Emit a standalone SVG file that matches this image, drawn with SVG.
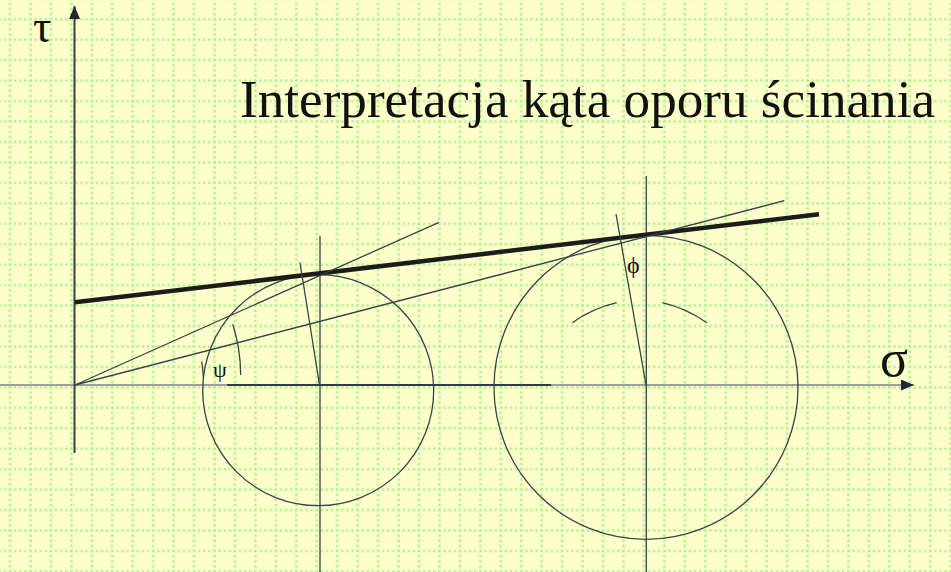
<svg xmlns="http://www.w3.org/2000/svg" width="951" height="572" viewBox="0 0 951 572">
  <style>
    .grid { stroke: #b0f294; stroke-width: 2.6; stroke-dasharray: 2.6 2.5125; stroke-dashoffset: 1.3; fill: none; }
    .ln { stroke: #35414d; stroke-width: 1.3; fill: none; }
    .axis { stroke: #35414d; stroke-width: 2; fill: none; }
    .thick { stroke: #1c1c1c; stroke-width: 4.5; fill: none; }
    .lbl { font-family: "Liberation Serif", "Times New Roman", serif; fill: #111; }
  </style>
  <defs>
    <pattern id="gridp" patternUnits="userSpaceOnUse" x="-0.225" y="9.075" width="20.45" height="20.45">
      <line class="grid" x1="10.225" y1="0" x2="10.225" y2="20.45"/>
      <line class="grid" x1="0" y1="10.225" x2="20.45" y2="10.225"/>
    </pattern>
    <marker id="arrow" viewBox="0 0 13 11" refX="13" refY="5.5" markerWidth="13" markerHeight="11" markerUnits="userSpaceOnUse" orient="auto">
      <path d="M0,0 L13,5.5 L0,11 Z" fill="#1f2a35"/>
    </marker>
  </defs>

  <rect width="951" height="572" fill="#ffffcc"/>
  <rect width="951" height="572" fill="url(#gridp)"/>

  <g id="title">
    <text class="lbl" x="240" y="117" font-size="53" textLength="695" lengthAdjust="spacingAndGlyphs">Interpretacja kąta oporu ścinania</text>
  </g>

  <g id="axes">
    <line x1="0" y1="385" x2="914" y2="385" stroke="#7d8286" stroke-width="1.6" marker-end="url(#arrow)"/>
    <line x1="227" y1="385" x2="551" y2="385" stroke="#2f3a45" stroke-width="2.2"/>
    <line class="axis" x1="74.5" y1="453" x2="74.5" y2="6" marker-end="url(#arrow)"/>
    <text class="lbl" x="33" y="42" font-size="46">τ</text>
    <text class="lbl" x="880" y="376" font-size="52">σ</text>
  </g>

  <g id="circle-small">
    <circle class="ln" cx="318.2" cy="390.2" r="115.5"/>
    <line class="ln" x1="320" y1="236" x2="320" y2="572" stroke-width="1.5"/>
  </g>

  <g id="circle-large">
    <circle class="ln" cx="646" cy="387.3" r="152"/>
    <line class="ln" x1="646.3" y1="176" x2="646.3" y2="572" stroke-width="1.5"/>
  </g>

  <g id="connectors">
    <line class="thick" x1="75" y1="302.3" x2="819" y2="214.3"/>
    <line class="ln" x1="75" y1="385" x2="439" y2="222.3"/>
    <line class="ln" x1="75" y1="385" x2="784.3" y2="200.7"/>
    <line class="ln" x1="300" y1="262.5" x2="319.5" y2="385"/>
    <line class="ln" x1="616" y1="214" x2="646" y2="385"/>
    <path class="ln" d="M201.7,361.7 A128.7,128.7 0 0 1 203.3,376.7"/>
    <path class="ln" d="M232.7,324.3 A167,167 0 0 1 240.7,375"/>
    <path class="ln" d="M572.3,322.7 A128,128 0 0 1 616.7,302.7"/>
    <path class="ln" d="M662.3,302.7 A128,128 0 0 1 706.7,322.7"/>
  </g>

  <g id="angle-labels">
    <text class="lbl" x="213" y="377" font-size="22" fill="#222">ψ</text>
    <text class="lbl" x="627" y="273" font-size="24" fill="#222">ϕ</text>
  </g>
</svg>
